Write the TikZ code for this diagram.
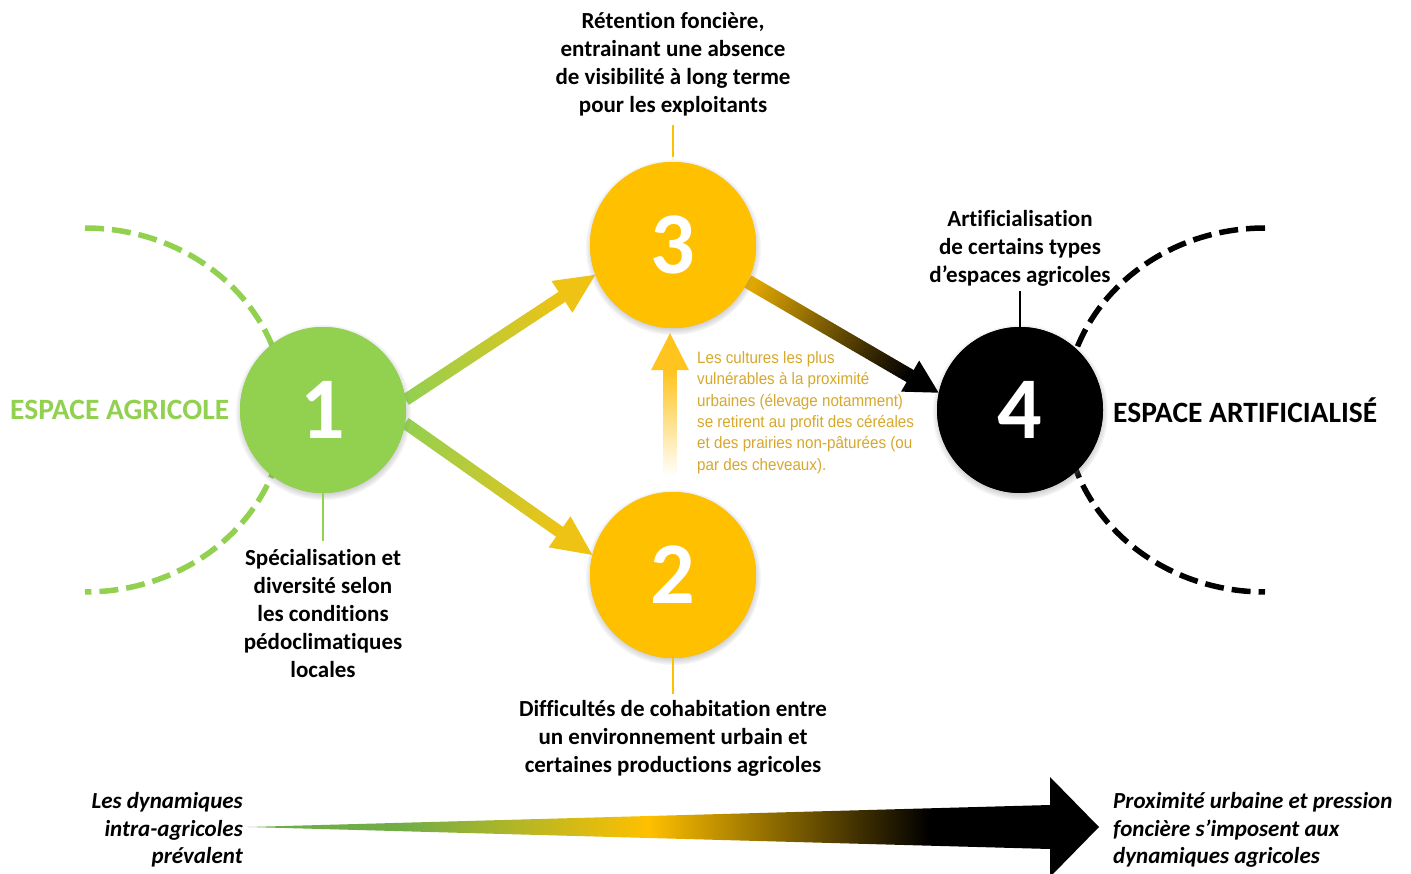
\documentclass[tikz,border=0pt]{standalone}
\usepackage{fontspec}
\setmainfont{Carlito}[Ligatures={NoCommon}]
\newfontfamily\narrowfont[FakeStretch=0.92]{Liberation Sans}
\usetikzlibrary{calc,shadows}
\definecolor{agri}{HTML}{92D050}
\definecolor{gold}{HTML}{FFC000}
\definecolor{wgreen}{HTML}{70AD47}
\definecolor{txtgold}{RGB}{214,168,44}
\definecolor{greenend}{RGB}{238,195,20}
\definecolor{goldstart}{RGB}{232,172,0}
\definecolor{vtop}{RGB}{255,196,30}
\pgfdeclarehorizontalshading{wedgeshade}{100bp}{color(0bp)=(wgreen); color(34bp)=(wgreen); color(48.5bp)=(gold); color(65bp)=(black); color(100bp)=(black)}
% gradient arrow: start, tip, color1, color2, shaft width, head length, head half width
\newcommand\garrow[7]{%
  \coordinate (ga-s) at (#1);
  \coordinate (ga-t) at (#2);
  \coordinate (ga-b) at ($(ga-t)!#6!(ga-s)$);
  \foreach \i in {0,...,59}{%
    \pgfmathsetmacro\pa{\i/60}%
    \pgfmathsetmacro\pb{(\i+1.1)/60}%
    \pgfmathsetmacro\pc{100*\i/59}%
    \draw[line width=#5, color=#4!\pc!#3] ($(ga-s)!\pa!(ga-b)$) -- ($(ga-s)!\pb!(ga-b)$);
  }%
  \fill[#4] ($(ga-b)!#7!90:(ga-t)$) -- (ga-t) -- ($(ga-b)!#7!-90:(ga-t)$) -- cycle;
}
\tikzset{
  num/.style={circle, minimum size=166pt, inner sep=0pt, text=white,
    font=\fontsize{88}{88}\selectfont\bfseries,
    circular drop shadow={shadow xshift=0pt, shadow yshift=-2pt, shadow scale=1.06, opacity=0.35}},
  lbl/.style={align=center, inner sep=0pt, font=\fontsize{23}{28}\selectfont\bfseries},
  side/.style={inner sep=0pt, font=\fontsize{29.5}{30}\selectfont\bfseries},
  dyn/.style={inner sep=0pt, font=\fontsize{23}{27.5}\selectfont\bfseries\itshape},
  note/.style={align=left, inner sep=0pt, text=txtgold, font=\narrowfont\fontsize{16.5}{21.4}\selectfont},
  dashedarc/.style={line width=5.5pt, dash pattern=on 19pt off 8pt},
}
\begin{document}
\begin{tikzpicture}[x=1pt, y=-1pt]
\useasboundingbox (0,0) rectangle (1411,874);
\fill[white] (0,0) rectangle (1411,874);

% dashed arcs
\draw[agri, dashedarc] (85,228) arc[start angle=90, end angle=-90, x radius=200pt, y radius=182pt];
\draw[black, dashedarc] (1265,228) arc[start angle=90, end angle=270, x radius=200pt, y radius=182pt];

% nodes (circles)
\node[num, fill=agri] (n1) at (323,410) {1};
\node[num, fill=gold] (n3) at (673,245) {3};
\node[num, fill=gold] (n2) at (673,575) {2};
\node[num, fill=black] (n4) at (1020,410) {4};

% gradient arrows
\garrow{n1.7}{n3.201}{agri}{greenend}{12pt}{40pt}{19pt}
\garrow{n1.-9}{n2.166}{agri}{greenend}{12pt}{40pt}{19pt}
\garrow{n3.-26}{n4.168}{goldstart}{black}{14pt}{33pt}{18pt}
\garrow{$(n2.north)+(-3,-14)$}{$(n3.south)+(-3,5)$}{white}{vtop}{14pt}{37pt}{19pt}

% redraw circles on top
\node[num, fill=agri] at (n1) {1};
\node[num, fill=gold] at (n3) {3};
\node[num, fill=gold] at (n2) {2};
\node[num, fill=black] at (n4) {4};

% labels
\node[lbl] (t3) at (673,64) {Rétention foncière,\\entrainant une absence\\de visibilité à long terme\\pour les exploitants};
\node[lbl] (t4) at (1020,248) {Artificialisation\\de certains types\\d’espaces agricoles};
\node[lbl] (t1) at (323,613.5) {Spécialisation et\\diversité selon\\les conditions\\pédoclimatiques\\locales};
\node[lbl] (t2) at (673,738) {Difficultés de cohabitation entre\\un environnement urbain et\\certaines productions agricoles};

\draw[gold, line width=1.5pt, shorten <=5pt, shorten >=9pt] (n3.north) -- (t3.south);
\draw[black, line width=1.2pt, shorten >=5pt] (n4.north) -- (t4.south);
\draw[agri, line width=1.2pt, shorten >=8pt] (n1.south) -- (t1.north);
\draw[gold, line width=1.5pt, shorten >=6pt] (n2.south) -- (t2.north);

\node[side, text=agri, anchor=west] (ea) at (10,410) {ESPACE AGRICOLE};
\node[side, anchor=west] (eart) at (1113,410) {ESPACE ARTIFICIALISÉ};

\node[note, anchor=west] (nt) at (697,412.5) {Les cultures les plus\\vulnérables à la proximité\\urbaines (élevage notamment)\\se retirent au profit des céréales\\et des prairies non-pâturées (ou\\par des cheveaux).};

% bottom wedge arrow
\shade[shading=wedgeshade] (248,827) -- (1050,805) -- (1050,777) -- (1099,827) -- (1050,877) -- (1050,849) -- cycle;
\node[dyn, align=right, anchor=east] (dl) at (243,830) {Les dynamiques\\intra-agricoles\\prévalent};
\node[dyn, align=left, anchor=west] (dr) at (1113,830) {Proximité urbaine et pression\\foncière s’imposent aux\\dynamiques agricoles};
\end{tikzpicture}
\end{document}
